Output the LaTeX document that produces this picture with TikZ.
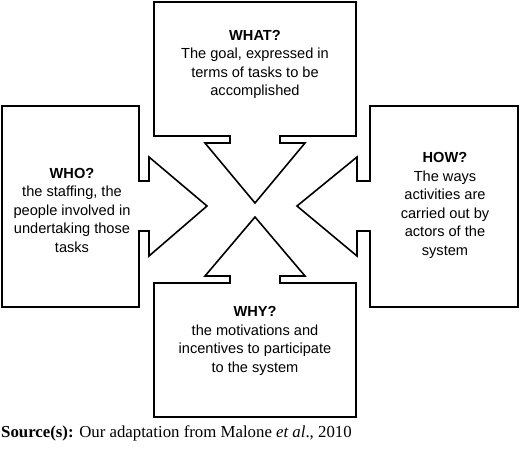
\documentclass[tikz,border=0pt]{standalone}
\usepackage{fontspec}
\setmainfont{Liberation Serif}
\setsansfont{Liberation Sans}
\begin{document}
\begin{tikzpicture}[x=1pt, y=-1pt,
  every node/.style={font=\sffamily\fontsize{14.6}{18.5}\selectfont, align=center},
  boxarrow/.style={line width=1.6pt, draw=black, line join=miter}]
\useasboundingbox (0,0) rectangle (520,448);
% box with arrow, top
\draw[boxarrow] (154,2) -- (356,2) -- (356,136) -- (280,136) -- (280,143) -- (305,143) -- (255,203)
  -- (205,143) -- (230,143) -- (230,136) -- (154,136) -- cycle;
% box with arrow, bottom
\draw[boxarrow] (154,417) -- (356,417) -- (356,283) -- (280,283) -- (280,276) -- (305,276) -- (255,217)
  -- (205,276) -- (230,276) -- (230,283) -- (154,283) -- cycle;
% box with arrow, left
\draw[boxarrow] (2,106) -- (139,106) -- (139,181) -- (149,181) -- (149,157) -- (207,206)
  -- (149,256) -- (149,231) -- (139,231) -- (139,307) -- (2,307) -- cycle;
% box with arrow, right
\draw[boxarrow] (518,106) -- (370,106) -- (370,181) -- (357,181) -- (357,157) -- (297,206)
  -- (357,256) -- (357,231) -- (370,231) -- (370,307) -- (518,307) -- cycle;
\node (what) at (255,64.5) {\textbf{WHAT?}\\The goal, expressed in\\terms of tasks to be\\accomplished};
\node (who) at (72,210) {\textbf{WHO?}\\the staffing, the\\people involved in\\undertaking those\\tasks};
\node (how) at (445,205.5) {\textbf{HOW?}\\The ways\\activities are\\carried out by\\actors of the\\system};
\node (why) at (255,341) {\textbf{WHY?}\\the motivations and\\incentives to participate\\to the system};
\node[font=\rmfamily\fontsize{16.8}{20}\selectfont, anchor=base west, inner sep=0pt] (source) at (1,437)
  {\textbf{Source(s):} Our adaptation from Malone \textit{et al}., 2010};
\end{tikzpicture}
\end{document}
